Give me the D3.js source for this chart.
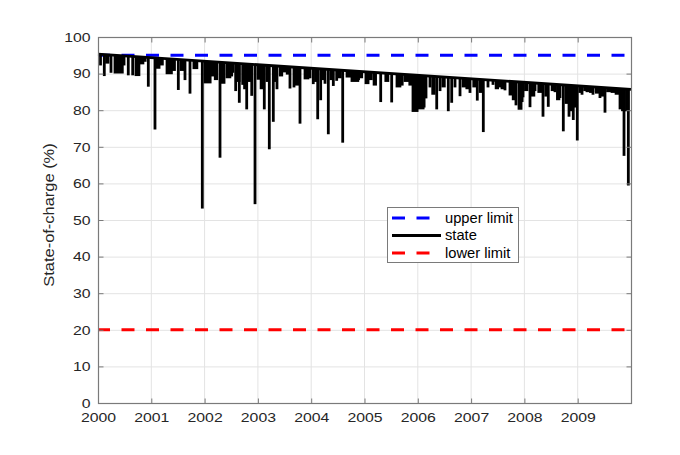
<!DOCTYPE html>
<html><head><meta charset="utf-8">
<script src="https://cdn.jsdelivr.net/npm/d3@7"></script>
<style>
html,body{margin:0;padding:0;background:#fff;}
svg{display:block;font-family:"Liberation Sans",Arial,sans-serif;}
</style></head>
<body><svg id="c" width="680" height="455"></svg>
<script>
// ---- data ----
const yearTicks = [2000,2001,2002,2003,2004,2005,2006,2007,2008,2009];
const socTicks = [0,10,20,30,40,50,60,70,80,90,100];
const upperLimit = 95;
const lowerLimit = 20;
// top envelope of the state-of-charge (start / end of period)
const envelopeYears = [2000, 2010];
const envelopeValues = [95.3, 85.7];
// main discharge events: start (year), duration (days), lowest state (%)
const dipYears = [2000.047,2000.118,2000.244,2000.319,2000.568,2000.651,2000.713,2000.788,2000.944,
 2001.069,2001.107,2001.295,2001.507,2001.632,2001.726,2001.957,2002.008,2002.289,2002.326,2002.420,
 2002.533,2002.583,2002.651,2002.715,2002.790,2002.884,2002.946,2003.002,2003.120,2003.214,2003.289,
 2003.358,2003.490,2003.602,2003.677,2003.790,2003.884,2004.039,2004.122,2004.178,2004.259,2004.321,
 2004.415,2004.478,2004.591,2004.672,2004.765,2005.028,2005.304,2005.510,2005.610,2005.760,2005.910,
 2006.004,2006.154,2006.229,2006.355,2006.417,2006.572,2006.636,2006.698,2006.792,2006.979,2007.116,
 2007.229,2007.317,2007.411,2007.542,2007.636,2007.730,2007.842,2007.899,2007.974,2008.105,2008.199,
 2008.349,2008.448,2008.574,2008.668,2008.730,2008.837,2008.917,2008.992,2009.081,2009.174,2009.287,
 2009.418,2009.512,2009.644,2009.794,2009.869,2009.950];
const dipDays = [0,0,0,50,0,0,20,20,0,
 0,14,30,0,0,0,0,35,0,14,20,
 0,0,0,0,0,0,0,14,0,0,0,
 0,28,0,0,0,20,0,0,0,0,0,
 0,0,0,20,40,14,0,0,20,20,28,
 35,0,0,0,0,0,0,0,0,0,0,
 0,0,0,0,0,20,0,14,0,0,0,
 0,0,0,0,0,0,0,0,0,40,0,
 0,0,35,14,0,0];
const dipLows = [92.5,89.6,90.5,90.3,89.8,89.8,89.6,92.8,86.7,
 75.0,91.6,90.1,85.8,88.5,84.8,53.4,87.6,67.3,87.5,89.0,
 90.5,85.5,82.3,87.2,80.5,84.2,54.6,88.6,80.5,69.6,77.1,
 86.0,90.6,86.2,86.5,76.6,88.7,87.4,77.8,83.0,87.5,73.7,
 86.9,88.3,71.4,89.2,88.0,87.4,82.5,82.4,86.5,88.0,79.8,
 80.5,83.5,86.5,80.5,85.5,80.0,82.3,86.5,84.1,85.0,82.9,
 74.3,86.5,87.2,86.5,85.7,84.3,81.6,80.4,83.8,81.1,85.5,
 78.5,81.2,85.2,83.6,74.5,78.5,77.6,72.0,84.5,85.2,84.5,
 83.6,79.6,85.0,80.5,67.8,59.7];
// shallower discharge events
const minorYears = [2000.16,2000.45,2000.83,2001.18,2001.38,2001.56,2001.80,
 2002.10,2002.20,2002.47,2002.62,2002.75,2002.83,
 2003.06,2003.17,2003.32,2003.42,2003.55,2003.72,2003.95,
 2004.08,2004.22,2004.37,2004.52,2004.85,2004.92,
 2005.10,2005.18,2005.40,2005.68,2005.85,
 2006.08,2006.28,2006.47,2006.85,2006.92,
 2007.05,2007.17,2007.47,2007.58,2007.79,2007.93,
 2008.02,2008.15,2008.27,2008.40,2008.52,2008.62,2008.78,2008.87,2008.95,
 2009.04,2009.13,2009.24,2009.35,2009.46,2009.56,2009.72,2009.84,2009.92];
const minorDays = [10,14,20,10,20,14,20,
 20,10,14,10,10,10,
 10,10,10,10,10,10,10,
 10,10,10,10,14,10,
 10,10,14,10,10,
 14,10,10,14,10,
 10,10,10,10,10,10,
 10,10,14,10,10,10,10,10,10,
 10,10,14,20,10,14,14,14,10];
const minorLows = [93,92.5,93.5,92.5,91,91,91.5,
 89.5,88.5,89.5,88,86,88,
 86,88,88,89.5,90,87,89,
 88,88.5,88.5,89,88.5,89,
 88.5,87,88,87,87,
 81,84.5,86.5,86.5,86,
 86.5,85,86,86,83,82.5,
 85.5,84,85,84,85.5,83,82,80,81,
 85,85.5,85,84.8,84,85.2,84.5,80,80];
const legendLabels = ["upper limit","state","lower limit"];
const yLabel = "State-of-charge (%)";

// ---- layout ----
const L = 98, T = 37, R = 631, B = 403;
const svg = d3.select("#c");
const x = d3.scaleLinear().domain([2000,2010]).range([L,R]);
const y = d3.scaleLinear().domain([0,100]).range([B,T]);

function stretch(sel, k){
  sel.each(function(){
    const w = this.getComputedTextLength();
    this.setAttribute("textLength", w*k);
    this.setAttribute("lengthAdjust","spacingAndGlyphs");
  });
}

// grid
const g = svg.append("g");
g.selectAll("line.vg").data(yearTicks.slice(1)).join("line")
  .attr("x1",d=>x(d)).attr("x2",d=>x(d)).attr("y1",T).attr("y2",B)
  .attr("stroke","#e3e3e3").attr("stroke-width",1);
g.selectAll("line.hg").data(socTicks.slice(1,-1)).join("line")
  .attr("y1",d=>y(d)+0.5).attr("y2",d=>y(d)+0.5).attr("x1",L).attr("x2",R)
  .attr("stroke","#e3e3e3").attr("stroke-width",1);

// clip: region below the top envelope
const env = envelopeYears.map((t,i)=>({t, v: envelopeValues[i]}));
svg.append("clipPath").attr("id","envclip").append("path")
  .attr("d", d3.area().x(d=>x(d.t)).y0(y(0)).y1(d=>y(d.v))(env));

// upper limit (drawn beneath the state)
svg.append("line").attr("x1",x(2000)).attr("x2",R).attr("y1",y(upperLimit)).attr("y2",y(upperLimit))
  .attr("stroke","#0000ff").attr("stroke-width",3).attr("stroke-dasharray","13,11.5").attr("stroke-dashoffset",1);

// state discharge events
const dips = dipYears.map((t,i)=>({t, days: dipDays[i], low: dipLows[i]}))
  .concat(minorYears.map((t,i)=>({t, days: minorDays[i], low: minorLows[i]})));
svg.append("g").attr("clip-path","url(#envclip)")
  .selectAll("rect").data(dips).join("rect")
  .attr("x", d=>x(d.t)-1.4)
  .attr("width", d=>x(d.t + d.days/365) - x(d.t) + 2.8)
  .attr("y", y(100))
  .attr("height", d=>y(d.low) - y(100) + 1)
  .attr("fill","#000");
// envelope
svg.append("path").datum(env)
  .attr("d", d3.line().x(d=>x(d.t)).y(d=>y(d.v)))
  .attr("fill","none").attr("stroke","#000").attr("stroke-width",2.8);

// lower limit
svg.append("line").attr("x1",x(2000)).attr("x2",R).attr("y1",y(lowerLimit)).attr("y2",y(lowerLimit))
  .attr("stroke","#ff0000").attr("stroke-width",3).attr("stroke-dasharray","13,11.5").attr("stroke-dashoffset",1);

// axes box
const axCol = "#7a7a7a";
svg.append("rect").attr("x",L+0.5).attr("y",T+0.5).attr("width",R-L).attr("height",B-T)
  .attr("fill","none").attr("stroke",axCol).attr("stroke-width",1.2);

const xAxis = d3.axisBottom(x).tickValues(yearTicks).tickFormat(d3.format("d")).tickSizeInner(-5).tickSizeOuter(0).tickPadding(9);
const xa = svg.append("g").attr("transform",`translate(0,${B+0.5})`).call(xAxis);
const xTop = d3.axisTop(x).tickValues(yearTicks).tickFormat("").tickSizeInner(-5).tickSizeOuter(0);
const xt = svg.append("g").attr("transform",`translate(0,${T+0.5})`).call(xTop);
const yAxis = d3.axisLeft(y).tickValues(socTicks).tickSizeInner(-5).tickSizeOuter(0).tickPadding(8);
const ya = svg.append("g").attr("transform",`translate(${L+0.5},0)`).call(yAxis);
const yRight = d3.axisRight(y).tickValues(socTicks).tickFormat("").tickSizeInner(-5).tickSizeOuter(0);
const yr = svg.append("g").attr("transform",`translate(${R+0.5},0)`).call(yRight);
[xa,xt,ya,yr].forEach(a=>{
  a.select(".domain").remove();
  a.selectAll(".tick line").attr("stroke",axCol);
  a.selectAll("text").attr("fill","#262626").attr("font-size","13.5px")
   .attr("font-family","'Liberation Sans',Arial,sans-serif");
});
stretch(xa.selectAll("text"), 1.17);
stretch(ya.selectAll("text"), 1.17);

const yl = svg.append("text").attr("transform",`translate(54,215) rotate(-90)`)
  .attr("text-anchor","middle").attr("font-size","15.5px").attr("fill","#262626").text(yLabel);
stretch(yl, 1.06);

// legend
const lg = svg.append("g");
lg.append("rect").attr("x",387.5).attr("y",207.5).attr("width",131).attr("height",55)
  .attr("fill","#fff").attr("stroke",axCol).attr("stroke-width",1);
const lgStyle = [
  {c:"#0000ff", dash:"13,11.5"},
  {c:"#000000", dash:null},
  {c:"#ff0000", dash:"13,11.5"}];
legendLabels.forEach((lab,i)=>{
  const yy = 218 + i*17.5;
  const ln = lg.append("line").attr("x1",392).attr("x2",441).attr("y1",yy).attr("y2",yy)
    .attr("stroke",lgStyle[i].c).attr("stroke-width",3);
  if (lgStyle[i].dash) ln.attr("stroke-dasharray",lgStyle[i].dash);
  const tx = lg.append("text").attr("x",445).attr("y",yy).attr("dy","0.35em")
    .attr("font-size","14px").attr("fill","#000").text(lab);
  stretch(tx, 1.05);
});
</script></body></html>
